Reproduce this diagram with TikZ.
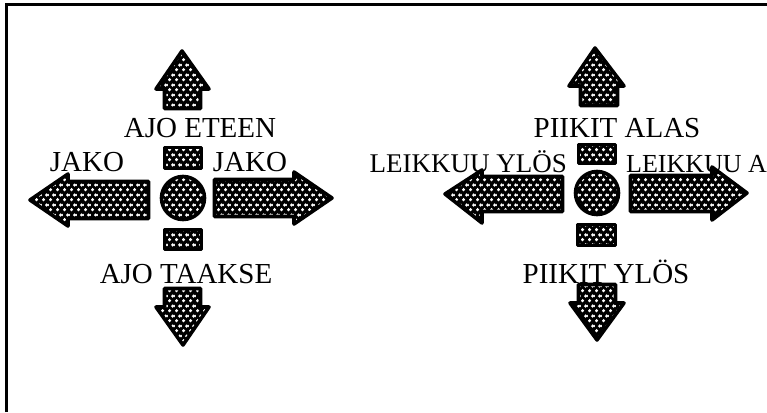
\documentclass[tikz,border=0pt]{standalone}
\usepackage{fontspec}
\setmainfont{Liberation Serif}
\usetikzlibrary{patterns.meta}
\tikzdeclarepattern{
  name=holes,
  type=colored,
  bounding box={(0,0) and (7pt,10pt)},
  tile size={(7pt,10pt)},
  code={
    \fill[white] (1.75pt,2.5pt) circle (1.9pt);
    \fill[white] (5.25pt,7.5pt) circle (1.9pt);
  }
}
\tikzset{
  dotted shape/.style={preaction={fill=black}, pattern=holes, draw=black, line width=3.6pt, line join=round},
  label text/.style={font=\fontsize{29}{32}\selectfont, inner sep=0pt},
  small label/.style={font=\fontsize{26}{30}\selectfont, inner sep=0pt},
  frame line/.style={line width=3pt, black}
}
\begin{document}
\begin{tikzpicture}[x=1pt,y=-1pt]
\useasboundingbox (0,0) rectangle (767,412);
% frame
\coordinate (fl) at (6,412);
\coordinate (fc) at (6,5);
\coordinate (fr) at (767,5);
\draw[frame line] (fl) -- (fc) -- (fr);

% ---- labels (drawn first; shapes lie on top) ----
\node[label text, anchor=base] (ajoeteen) at (200,137) {AJO ETEEN};
\node[label text, anchor=base] (ajotaakse) at (186,283) {AJO TAAKSE};
\node[label text, anchor=base] (jakoL) at (87,171) {JAKO};
\node[label text, anchor=base] (jakoR) at (250,171) {JAKO};
\node[label text, anchor=base] (piikitalas) at (617,137) {PIIKIT ALAS};
\node[label text, anchor=base] (piikitylos) at (606,283) {PIIKIT YLÖS};
\node[label text, font=\fontsize{27}{30}\selectfont, anchor=base east] (leikylos) at (567,172) {LEIKKUU YLÖS};
\node[small label, anchor=base west] (leika) at (626,172) {LEIKKUU A};

% ---- left control ----
\path[dotted shape] (164.5,108.5) -- (164.5,89) -- (156,89) -- (182,51) -- (209,89) -- (200.5,89) -- (200.5,108.5) -- cycle;
\path[dotted shape] (164.5,147.5) rectangle (201.5,168.5);
\path[dotted shape] (183,198) circle (21.5);
\path[dotted shape] (164.5,229.5) rectangle (201.5,249.5);
\path[dotted shape] (164.5,288.5) -- (164.5,307) -- (156,307) -- (183,345) -- (209,307) -- (200.5,307) -- (200.5,288.5) -- cycle;
\path[dotted shape] (148.5,181.5) -- (68,181.5) -- (68,174) -- (30,200) -- (68,226) -- (68,218.5) -- (148.5,218.5) -- cycle;
\path[dotted shape] (214.5,179.5) -- (294,179.5) -- (294,172) -- (332,198) -- (294,224) -- (294,216.5) -- (214.5,216.5) -- cycle;

% ---- right control ----
\path[dotted shape] (580.5,105.5) -- (580.5,86) -- (569,86) -- (595,48) -- (624,86) -- (617.5,86) -- (617.5,105.5) -- cycle;
\path[dotted shape] (578.5,144.5) rectangle (615.5,163.5);
\path[dotted shape] (597,193) circle (21.5);
\path[dotted shape] (577.5,224.5) rectangle (615.5,245.5);
\path[dotted shape] (578.5,284.5) -- (578.5,303) -- (570,303) -- (597,340) -- (624,303) -- (615.5,303) -- (615.5,284.5) -- cycle;
\path[dotted shape] (562.5,176.5) -- (482,176.5) -- (482,170) -- (445,194) -- (482,223) -- (482,211.5) -- (562.5,211.5) -- cycle;
\path[dotted shape] (630.5,175.5) -- (712,175.5) -- (712,167) -- (747,193) -- (712,220) -- (712,211.5) -- (630.5,211.5) -- cycle;
\end{tikzpicture}
\end{document}
